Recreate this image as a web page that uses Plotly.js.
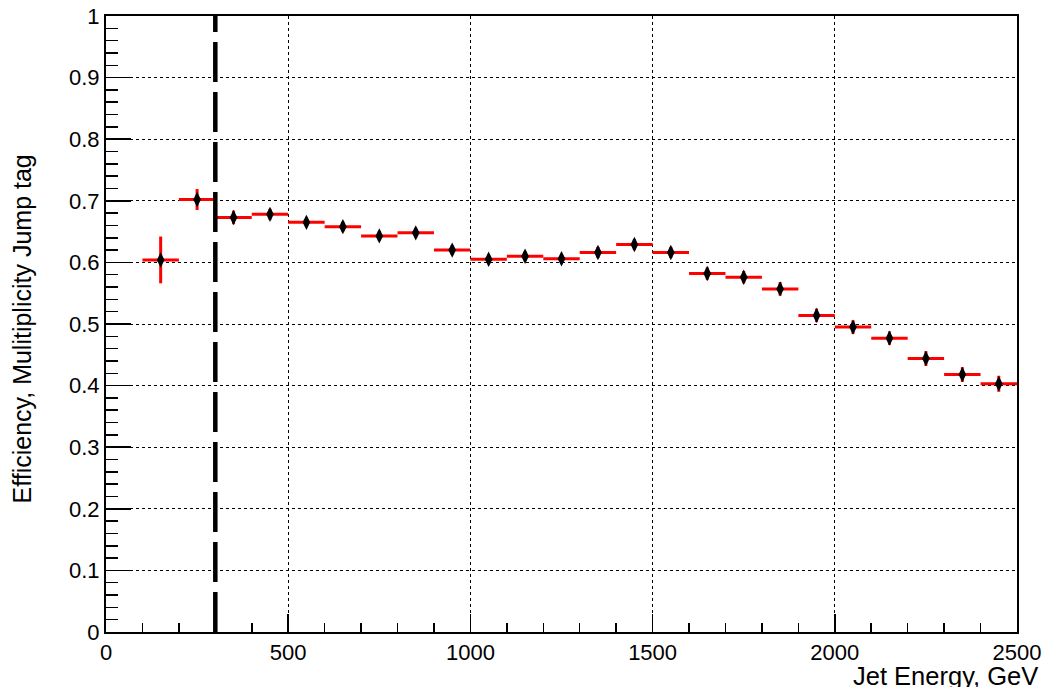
<!DOCTYPE html>
<html>
<head>
<meta charset="utf-8">
<script src="https://cdn.plot.ly/plotly-3.0.1.min.js"></script>
<style>html,body{margin:0;padding:0;background:#fff;}#chart{width:1045px;height:687px;}</style>
</head>
<body>
<div id="chart"></div>
<script>
// Bin centres (GeV), bin half-width, efficiency and its error
const binCenters = [150,250,350,450,550,650,750,850,950,1050,1150,1250,1350,1450,1550,1650,1750,1850,1950,2050,2150,2250,2350,2450];
const binHalfWidth = [50,50,50,50,50,50,50,50,50,50,50,50,50,50,50,50,50,50,50,50,50,50,50,50];
const efficiency = [0.604,0.702,0.673,0.678,0.665,0.658,0.643,0.648,0.620,0.605,0.610,0.606,0.616,0.629,0.616,0.582,0.576,0.557,0.514,0.495,0.477,0.444,0.418,0.403];
const effError = [0.038,0.017,0.011,0.009,0.008,0.008,0.008,0.008,0.008,0.008,0.008,0.008,0.009,0.009,0.009,0.010,0.010,0.011,0.011,0.011,0.011,0.012,0.012,0.013];
const cutEnergy = [300];
const xTickVals = [0,500,1000,1500,2000,2500];
const yTickVals = [0,0.1,0.2,0.3,0.4,0.5,0.6,0.7,0.8,0.9,1];
const yTickText = ['0','0.1','0.2','0.3','0.4','0.5','0.6','0.7','0.8','0.9','1'];

const trace = {
  x: binCenters, y: efficiency, type: 'scatter', mode: 'markers',
  marker: {symbol: 'diamond-tall', size: 11, color: 'black'},
  error_x: {type: 'data', array: binHalfWidth, visible: true, color: 'red', thickness: 3, width: 0},
  error_y: {type: 'data', array: effError, visible: true, color: 'red', thickness: 3, width: 0},
  hoverinfo: 'x+y'
};

const family = '"Liberation Sans", Arial, Helvetica, sans-serif';
const tickFont = {family: family, size: 22, color: 'black'};
const titleFont = {family: family, size: 25, color: 'black'};
const xTitleFont = {family: family, size: 25.5, color: 'black'};

const layout = {
  width: 1045, height: 687,
  margin: {l: 106, r: 28, t: 16, b: 55},
  paper_bgcolor: 'white', plot_bgcolor: 'white',
  showlegend: false,
  font: tickFont,
  xaxis: {
    range: [0, 2500], tickvals: xTickVals, ticktext: xTickVals.map(String),
    ticks: 'inside', ticklen: 18, tickwidth: 1.5, tickcolor: 'black',
    showline: true, linecolor: 'black', linewidth: 2, mirror: true,
    showgrid: true, gridcolor: 'black', griddash: 'dot', gridwidth: 1,
    zeroline: false, tickfont: tickFont,
    minor: {dtick: 100, tick0: 0, ticks: 'inside', ticklen: 9, tickwidth: 1.5, tickcolor: 'black', showgrid: false}
  },
  yaxis: {
    range: [0, 1], tickvals: yTickVals, ticktext: yTickText,
    ticks: 'inside', ticklen: 25, tickwidth: 1.5, tickcolor: 'black',
    showline: true, linecolor: 'black', linewidth: 2, mirror: true,
    showgrid: true, gridcolor: 'black', griddash: 'dot', gridwidth: 1,
    zeroline: false, tickfont: tickFont,
    minor: {dtick: 0.02, tick0: 0, ticks: 'inside', ticklen: 12, tickwidth: 1.5, tickcolor: 'black', showgrid: false}
  },
  shapes: cutEnergy.map(e => ({
    type: 'line', xref: 'x', yref: 'paper', x0: e, x1: e, y0: 0, y1: 1,
    line: {color: 'black', width: 4.5, dash: '40px,10px'}
  })),
  annotations: [
    {text: 'Jet Energy, GeV', xref: 'paper', yref: 'paper', x: 1.024, y: -0.071,
     xanchor: 'right', yanchor: 'middle', showarrow: false, borderpad: 0, font: xTitleFont},
    {text: 'Efficiency, Mulitiplicity Jump tag', xref: 'paper', yref: 'paper', x: -0.092, y: 0.778,
     xanchor: 'center', yanchor: 'top', textangle: -90, showarrow: false, font: titleFont}
  ]
};

Plotly.newPlot('chart', [trace], layout, {displayModeBar: false, staticPlot: true});
</script>
</body>
</html>
